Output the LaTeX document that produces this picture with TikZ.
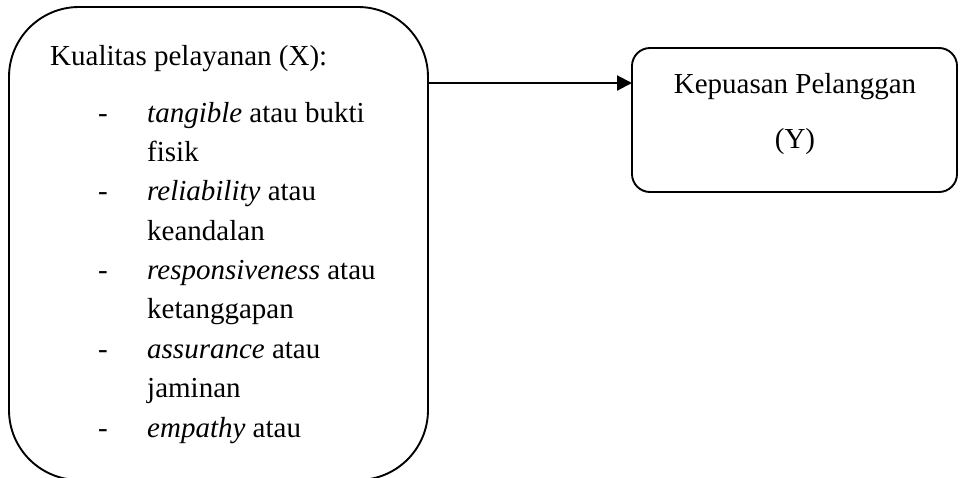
\documentclass[tikz,border=0pt]{standalone}
\usepackage{fontspec}
\setmainfont{Liberation Serif}
\usetikzlibrary{arrows.meta}
\tikzset{
  box/.style={draw=black, line width=1.9pt, rectangle, inner sep=0pt, outer sep=0pt},
  txt/.style={anchor=base west, inner sep=0pt, font=\fontsize{29}{35}\selectfont},
  ctxt/.style={anchor=base, inner sep=0pt, font=\fontsize{29}{35}\selectfont},
  arr/.style={line width=2.1pt, -{Triangle[length=15pt,width=15pt]}}
}
\begin{document}
\begin{tikzpicture}[x=1pt,y=-1pt]
\useasboundingbox (0,0) rectangle (961,477);
\clip (0,0) rectangle (961,477);
\fill[white] (0,0) rectangle (961,477);
% boxes
\node[box, rounded corners=70pt, minimum width=419pt, minimum height=473pt] (X) at (218.5,243.5) {};
\node[box, rounded corners=18pt, minimum width=325pt, minimum height=144pt] (Y) at (794.5,120) {};
% left text
\node[txt] (h) at (50,65) {Kualitas pelayanan (X):};
\node[txt] (d1) at (98,122) {-};
\node[txt] (t1) at (147,122) {\textit{tangible} atau bukti};
\node[txt] (t1b) at (147,161) {fisik};
\node[txt] (d2) at (98,200) {-};
\node[txt] (t2) at (147,200) {\textit{reliability} atau};
\node[txt] (t2b) at (147,240) {keandalan};
\node[txt] (d3) at (98,279) {-};
\node[txt] (t3) at (147,279) {\textit{responsiveness} atau};
\node[txt] (t3b) at (147,318) {ketanggapan};
\node[txt] (d4) at (98,358) {-};
\node[txt] (t4) at (147,358) {\textit{assurance} atau};
\node[txt] (t4b) at (147,397) {jaminan};
\node[txt] (d5) at (98,437) {-};
\node[txt] (t5) at (147,437) {\textit{empathy} atau};
% right text
\node[ctxt] (y1) at (795,93) {Kepuasan Pelanggan};
\node[ctxt] (y2) at (795,148) {(Y)};
% arrow
\draw[arr] (X.east |- 0,83) -- (Y.west |- 0,83);
\end{tikzpicture}
\end{document}
